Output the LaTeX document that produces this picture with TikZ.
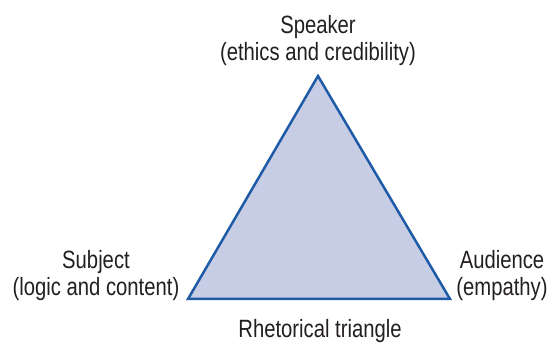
\documentclass[tikz,border=0pt]{standalone}
\usepackage{fontspec}
\setmainfont[FakeStretch=0.81]{Liberation Sans}
\definecolor{triline}{HTML}{1F5AA6}
\definecolor{trifill}{HTML}{C8CDE6}
\definecolor{txt}{HTML}{231F20}
\begin{document}
\begin{tikzpicture}[x=1pt,y=1pt,
  lbl/.style={font=\fontsize{25}{27.5}\selectfont, text=txt, align=center, inner sep=0pt, anchor=base},
  tri/.style={draw=triline, fill=trifill, line width=2.5pt, line join=miter}]
\useasboundingbox (0,0) rectangle (549,345);
\coordinate (top) at (318,269);
\coordinate (left) at (188,46);
\coordinate (right) at (450,46);
\draw[tri] (top) -- (left) -- (right) -- cycle;
\node[lbl] (speaker) at (318,284) {Speaker\\(ethics and credibility)};
\node[lbl] (subject) at (96,49) {Subject\\(logic and content)};
\node[lbl] (audience) at (502,49) {Audience\\(empathy)};
\node[lbl] (caption) at (320,7) {Rhetorical triangle};
\end{tikzpicture}
\end{document}
